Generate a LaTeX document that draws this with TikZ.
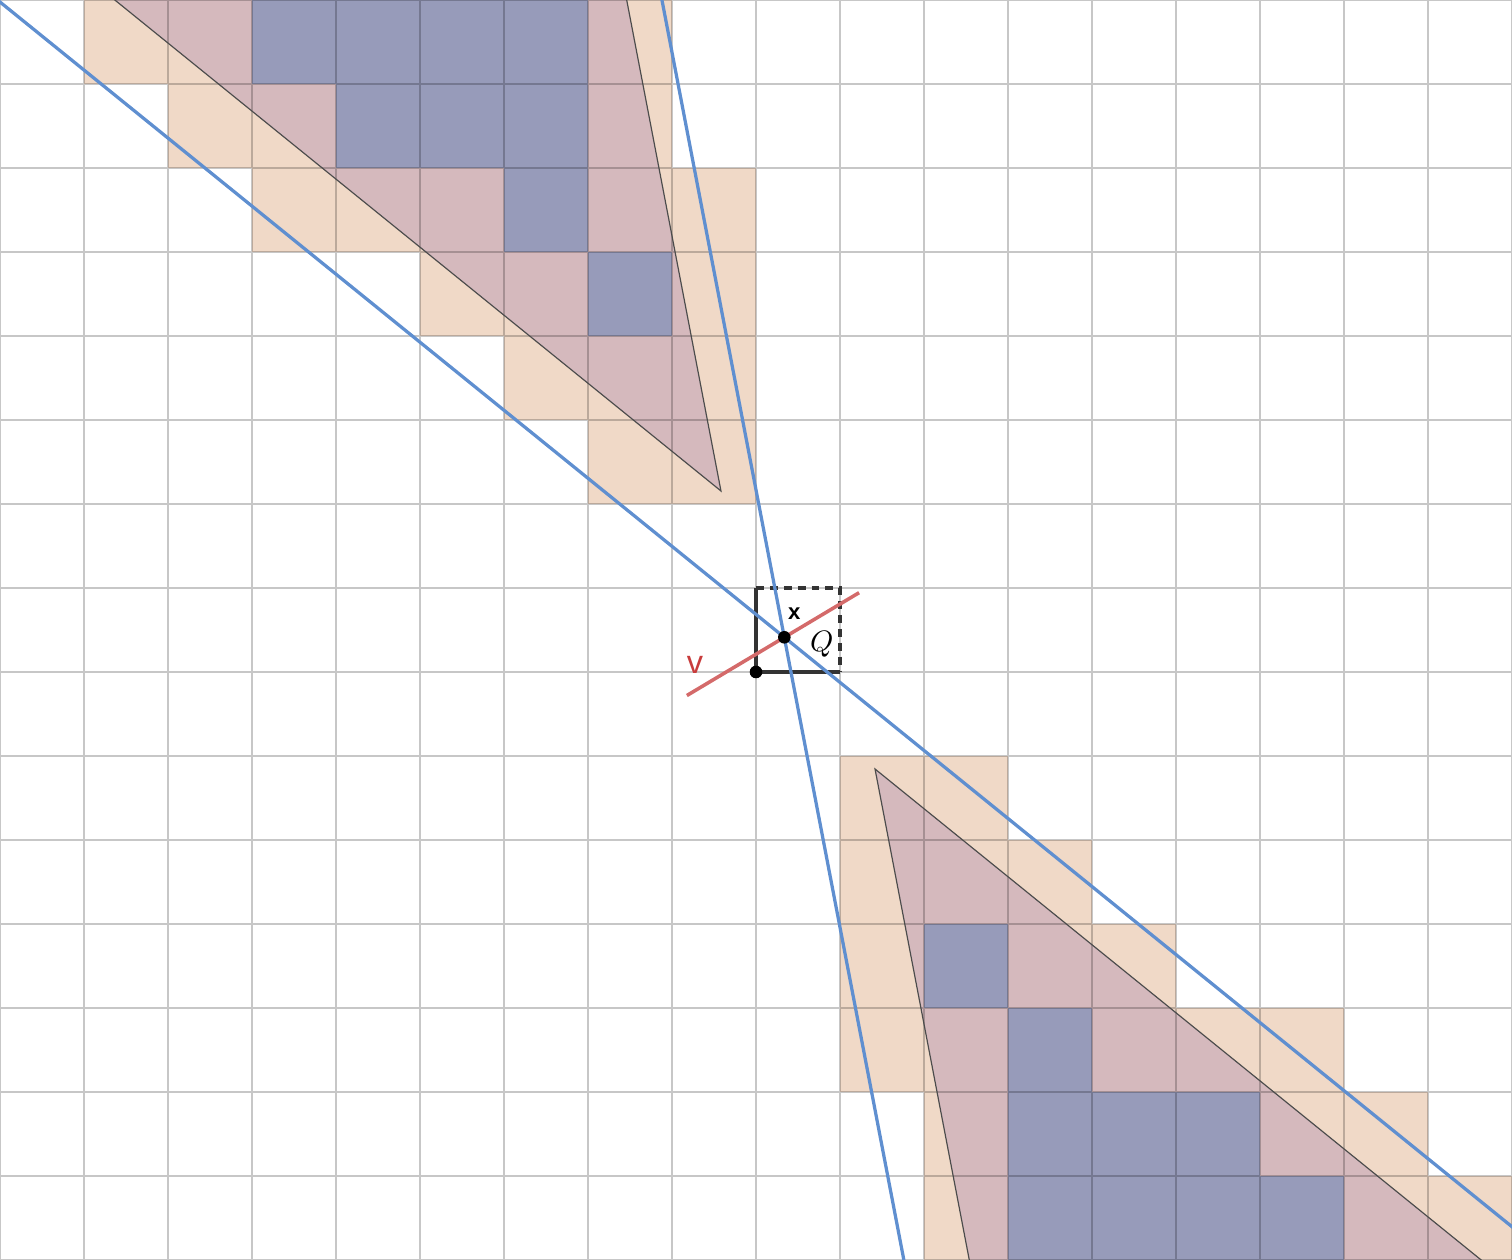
\documentclass[tikz,border=0pt]{standalone}
\usepackage{fontspec}
\setsansfont{Liberation Sans}
\definecolor{cellorange}{HTML}{F0D9C7}
\definecolor{cellmauve}{HTML}{D5B9BD}
\definecolor{cellblue}{HTML}{979BBA}
\definecolor{lineblue}{HTML}{5F8FD0}
\definecolor{linered}{HTML}{D46A6A}
\definecolor{textred}{HTML}{C83C3C}
\begin{document}
\begin{tikzpicture}[x=1cm,y=1cm,
  gridline/.style={line width=0.5pt, black, opacity=0.22},
  orangecell/.style={fill=cellorange},
  bluecell/.style={fill=cellblue},
  trifill/.style={fill=cellmauve},
  triedge/.style={draw=black!70, line width=0.4pt},
  bluel/.style={draw=lineblue, line width=1.1pt},
  redl/.style={draw=linered, line width=1.2pt},
  sqline/.style={draw=black!80, line width=1.2pt},
  sqdash/.style={sqline, dash pattern=on 2.7pt off 2pt},
  dotnode/.style={circle, fill=black, inner sep=0pt, minimum size=0.15cm}]
\useasboundingbox (0,0) rectangle (18,15);
\begin{scope}
\clip (0,0) rectangle (18,15);
% orange cells (intersecting triangles), point-symmetric about (9.5,7.5)
\foreach \c/\r in {1/0,2/0,7/0, 2/1,3/1,7/1, 3/2,4/2,5/2,7/2,8/2, 5/3,6/3,8/3, 6/4,7/4,8/4, 7/5,8/5}{
  \fill[orangecell] (\c,14-\r) rectangle ++(1,1);
  \fill[orangecell] (18-\c,\r) rectangle ++(1,1);
}
% triangles
\coordinate (A1) at (8.583,9.155);
\coordinate (B1) at (0.583,15.635);
\coordinate (C1) at (7.239,16.155);
\coordinate (A2) at (10.417,5.845);
\coordinate (B2) at (18.417,-0.635);
\coordinate (C2) at (11.761,-1.155);
\fill[trifill] (A1) -- (B1) -- (C1) -- cycle;
\fill[trifill] (A2) -- (B2) -- (C2) -- cycle;
% blue cells (fully inside)
\foreach \c/\r in {3/0,4/0,5/0,6/0, 4/1,5/1,6/1, 6/2, 7/3}{
  \fill[bluecell] (\c,14-\r) rectangle ++(1,1);
  \fill[bluecell] (18-\c,\r) rectangle ++(1,1);
}
% grid
\draw[gridline] (0,0) grid (18,15);
% triangle outlines
\draw[triedge] (B1) -- (A1) -- (C1);
\draw[triedge] (B2) -- (A2) -- (C2);
% square Q
\coordinate (O) at (9,7);
\coordinate (Qa) at (10,7);
\coordinate (Qb) at (10,8);
\coordinate (Qc) at (9,8);
\draw[sqline] (Qa) -- (O) -- (Qc);
\draw[sqdash] (Qc) -- (Qb) -- (Qa);
% lines through x
\coordinate (X) at (9.337,7.413);
\coordinate (L1a) at (-1.663,16.323);
\coordinate (L1b) at (20.337,-1.497);
\coordinate (L2a) at (7.609,16.413);
\coordinate (L2b) at (11.065,-1.587);
\draw[bluel] (L1a) -- (L1b);
\draw[bluel] (L2a) -- (L2b);
\coordinate (Va) at (8.177,6.720);
\coordinate (Vb) at (10.227,7.944);
\draw[redl] (Va) -- (Vb);
% points
\node[dotnode] (xdot) at (X) {};
\node[dotnode] (odot) at (O) {};
% labels
\node[font=\sffamily\bfseries\fontsize{7.5}{9}\selectfont] (xl) at (9.456,7.690) {x};
\node[font=\fontsize{10}{12}\selectfont] (ql) at (9.782,7.333) {$Q$};
\node[text=textred, font=\sffamily\fontsize{11}{13}\selectfont] (vl) at (8.274,7.083) {v};
\end{scope}
\end{tikzpicture}
\end{document}
